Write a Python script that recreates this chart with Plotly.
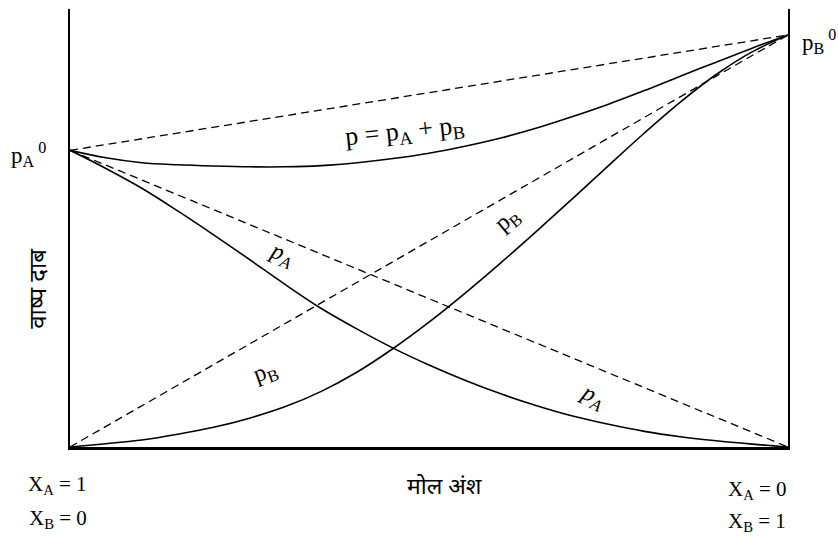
import plotly.graph_objects as go

# X_B mole fraction (0 at left: X_A = 1, 1 at right: X_B = 1)
x_grid = [0, 0.05, 0.1, 0.15, 0.2, 0.25, 0.3, 0.35, 0.4, 0.45, 0.5,
          0.55, 0.6, 0.65, 0.7, 0.75, 0.8, 0.85, 0.9, 0.95, 1.0]
p_a = [72, 67.6, 62.8, 57.3, 51.5, 45.5, 39.4, 33.6, 28.6, 24.0, 19.9,
       16.2, 12.9, 10.0, 7.5, 5.5, 3.8, 2.5, 1.5, 0.7, 0]
p_b = [0, 0.8, 1.7, 3.1, 4.8, 7.0, 9.8, 13.5, 18.2, 23.9, 30.3,
       37.3, 44.7, 52.4, 60.3, 68.3, 76.2, 83.7, 90.4, 95.9, 100]
p_tot = [72, 70.2, 69.0, 68.5, 68.2, 68.0, 68.0, 68.3, 69.0, 70.0, 71.3,
         73.0, 75.0, 77.4, 80.2, 83.2, 86.5, 90.0, 93.4, 96.8, 100]

x_ideal = [0, 1]
pa_ideal = [72, 0]
pb_ideal = [0, 100]
tot_ideal = [72, 100]

Y_MAX = 106.3

serif = "Liberation Serif, Times New Roman, serif"
deva = "Noto Sans Devanagari, Lohit Devanagari, Mangal, Noto Sans, sans-serif"

fig = go.Figure()
dash = "8px,5px"
for xs, ys in [(x_ideal, tot_ideal), (x_ideal, pa_ideal), (x_ideal, pb_ideal)]:
    fig.add_trace(go.Scatter(x=xs, y=ys, mode="lines",
                             line=dict(color="black", width=1.3, dash=dash),
                             hoverinfo="skip", showlegend=False))
for ys in [p_tot, p_a, p_b]:
    fig.add_trace(go.Scatter(x=x_grid, y=ys, mode="lines",
                             line=dict(color="black", width=1.6, shape="spline", smoothing=1.0),
                             hoverinfo="skip", showlegend=False))

ann = []
def add(text, x, y, xref="x", yref="y", size=20, angle=0, family=serif):
    ann.append(dict(text=text, x=x, y=y, xref=xref, yref=yref, showarrow=False,
                    xanchor="center", yanchor="middle", textangle=angle,
                    font=dict(family=family, size=size, color="black")))

add("p = p<sub>A</sub> + p<sub>B</sub>", 0.467, 76.5, size=26, angle=-6)
add("<i>p<sub>A</sub></i>", 0.295, 46.6, size=24, angle=22)
add("<i>p<sub>A</sub></i>", 0.728, 12.1, size=24, angle=27)
add("p<sub>B</sub>", 0.272, 18.0, size=24, angle=-20)
add("p<sub>B</sub>", 0.610, 55.1, size=24, angle=-40)

add("p<sub>A</sub><sup> 0</sup>", -0.058, 0.667, "paper", "paper", size=23)
add("p<sub>B</sub><sup> 0</sup>", 1.043, 0.925, "paper", "paper", size=23)
add("वाष्प दाब", -0.042, 0.363, "paper", "paper", size=24, angle=-90, family=deva)
add("मोल अंश", 0.522, -0.094, "paper", "paper", size=23, family=deva)
add("X<sub>A</sub> = 1", -0.017, -0.087, "paper", "paper", size=21)
add("X<sub>B</sub> = 0", -0.017, -0.165, "paper", "paper", size=21)
add("X<sub>A</sub> = 0", 0.957, -0.098, "paper", "paper", size=21)
add("X<sub>B</sub> = 1", 0.957, -0.172, "paper", "paper", size=21)

fig.update_layout(
    width=838, height=536,
    margin=dict(l=70, r=50, t=9, b=89),
    paper_bgcolor="white", plot_bgcolor="white",
    annotations=ann,
    showlegend=False,
    xaxis=dict(range=[0, 1], showgrid=False, zeroline=False, showticklabels=False,
               ticks="", showline=True, linecolor="black", linewidth=2.5),
    yaxis=dict(range=[0, Y_MAX], showgrid=False, zeroline=False, showticklabels=False,
               ticks="", showline=True, linecolor="black", linewidth=2, mirror=True),
)

fig.write_html("out.html", config={"displayModeBar": False},
               post_script="document.body.style.margin='0px';document.body.style.overflow='hidden';")
